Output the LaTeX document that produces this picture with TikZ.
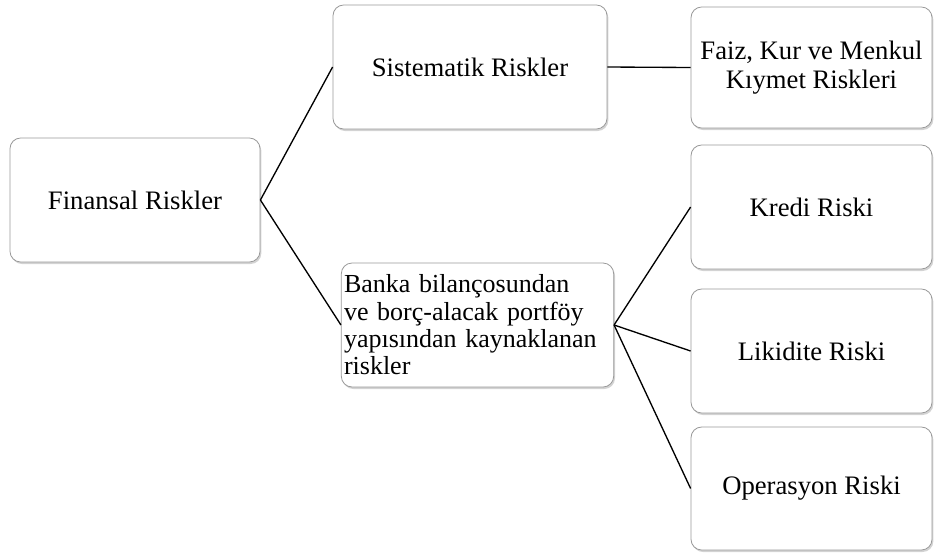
\documentclass[tikz,border=0pt]{standalone}
\usepackage{fontspec}
\setmainfont{Liberation Serif}
\usetikzlibrary{shadows}
\begin{document}
\begin{tikzpicture}[x=0.75pt,y=-0.75pt,
      riskbox/.style={draw=gray!80,line width=0.6pt,fill=white,rounded corners=8pt,
            drop shadow={shadow xshift=1pt,shadow yshift=-1.5pt,opacity=0.35,fill=gray},
            inner sep=2pt,font=\fontsize{20}{22}\selectfont,align=center},
      link/.style={line width=1pt}]
      \useasboundingbox (0,0) rectangle (934,554);

      \node[riskbox,minimum width=250*0.75pt,minimum height=124*0.75pt]
            (finansal) at (135,200) {Finansal Riskler};
      \node[riskbox,minimum width=274*0.75pt,minimum height=124*0.75pt]
            (sistematik) at (470,67) {Sistematik Riskler};
      \node[riskbox,minimum width=271*0.75pt,minimum height=124*0.75pt,
            align=left,text width=267*0.75pt,font=\fontsize{19.5}{20.5}\selectfont]
            (banka) at (477.5,325)
            {Banka bilançosundan\\ve borç-alacak portföy\\yapısından kaynaklanan\\riskler};

      \node[riskbox,minimum width=241*0.75pt,minimum height=121*0.75pt]
            (faiz) at (811.5,67.5) {Faiz, Kur ve Menkul\\Kıymet Riskleri};
      \node[riskbox,minimum width=241*0.75pt,minimum height=124*0.75pt]
            (kredi) at (811.5,207) {Kredi Riski};
      \node[riskbox,minimum width=241*0.75pt,minimum height=124*0.75pt]
            (likidite) at (811.5,351) {Likidite Riski};
      \node[riskbox,minimum width=241*0.75pt,minimum height=123*0.75pt]
            (operasyon) at (811.5,488.5) {Operasyon Riski};

      \draw[link] (finansal.east) -- (sistematik.west);
      \draw[link] (finansal.east) -- (banka.west);
      \draw[link] (sistematik.east) -- (faiz.west);
      \draw[link] (banka.east) -- (kredi.west);
      \draw[link] (banka.east) -- (likidite.west);
      \draw[link] (banka.east) -- (operasyon.west);
\end{tikzpicture}
\end{document}
